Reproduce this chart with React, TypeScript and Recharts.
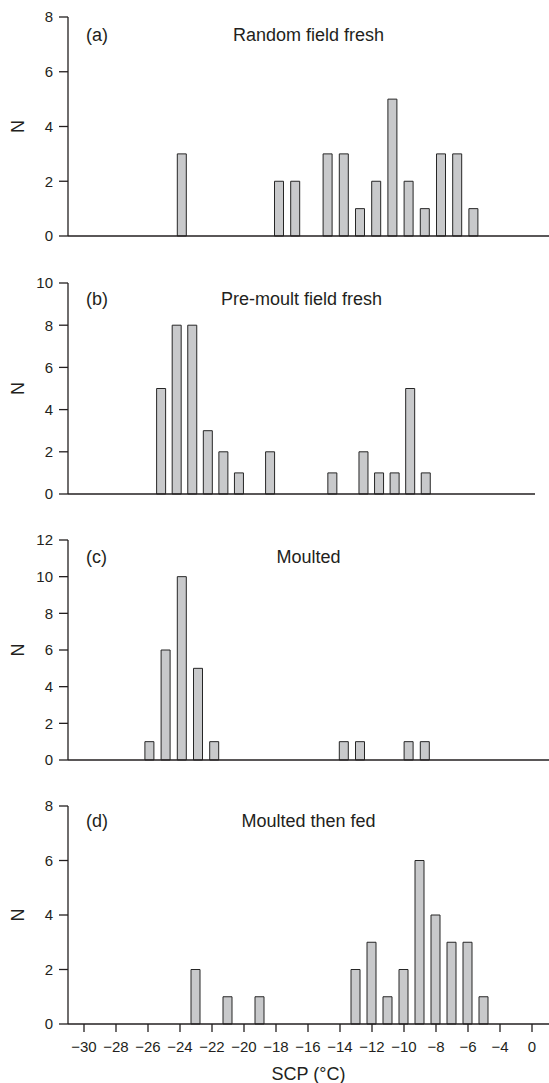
import React from "react";
import { BarChart, Bar, XAxis, YAxis } from "recharts";

// ---- data ----
const xTicks = [-30, -28, -26, -24, -22, -20, -18, -16, -14, -12, -10, -8, -6, -4, -2];
const xTickLabels = ["−30", "−28", "−26", "−24", "−22", "−20", "−18", "−16", "−14", "−12", "−10", "−8", "−6", "−4", "0"];

const titles = ["Random field fresh", "Pre-moult field fresh", "Moulted", "Moulted then fed"];
const panelLetters = ["(a)", "(b)", "(c)", "(d)"];

const binsA = [-24, -18, -17, -15, -14, -13, -12, -11, -10, -9, -8, -7, -6];
const countsA = [3, 2, 2, 3, 3, 1, 2, 5, 2, 1, 3, 3, 1];

const binsB = [-25, -24, -23, -22, -21, -20, -18, -14, -12, -11, -10, -9, -8];
const countsB = [5, 8, 8, 3, 2, 1, 2, 1, 2, 1, 1, 5, 1];

const binsC = [-26, -25, -24, -23, -22, -14, -13, -10, -9];
const countsC = [1, 6, 10, 5, 1, 1, 1, 1, 1];

const binsD = [-23, -21, -19, -13, -12, -11, -10, -9, -8, -7, -6, -5];
const countsD = [2, 1, 1, 2, 3, 1, 2, 6, 4, 3, 3, 1];

const yTicksA = [0, 2, 4, 6, 8];
const yTicksB = [0, 2, 4, 6, 8, 10];
const yTicksC = [0, 2, 4, 6, 8, 10, 12];
const yTicksD = [0, 2, 4, 6, 8];

const xLabel = "SCP (°C)";
const yLabel = "N";

// ---- styling ----
const FONT = "'Liberation Sans', Arial, Helvetica, sans-serif";
const INK = "#231f20";
const BAR_FILL = "#c8c9cb";
const W = 549;
const Y_AXIS_W = 68;
const MT = 12;

type PanelProps = {
  bins: number[];
  counts: number[];
  yTicks: number[];
  title: string;
  letter: string;
  plotTop: number;
  plotHeight: number;
  plotRight: number;
  xMax: number;
  titleBaseline: number;
  showXLabels: boolean;
};

function Panel(p: PanelProps) {
  const data = p.bins.map((b, i) => ({ bin: b, n: p.counts[i] }));
  const xAxisH = p.showXLabels ? 60 : 12;
  const H = MT + p.plotHeight + xAxisH;
  const plotCenterX = Y_AXIS_W + (p.plotRight - Y_AXIS_W) / 2;
  return (
    <div style={{ position: "absolute", left: 0, top: p.plotTop - MT, width: W, height: H }}>
      <BarChart
        width={W}
        height={H}
        data={data}
        margin={{ top: MT, right: W - p.plotRight, bottom: 0, left: 0 }}
        style={{ fontFamily: FONT }}
      >
        <XAxis
          dataKey="bin"
          type="number"
          domain={[-31, p.xMax]}
          allowDataOverflow
          ticks={xTicks}
          interval={0}
          height={xAxisH}
          tickSize={8}
          tickMargin={9}
          axisLine={{ stroke: INK, strokeWidth: 1.3 }}
          tickLine={{ stroke: INK, strokeWidth: 1.3 }}
          tick={p.showXLabels ? { fill: INK, fontSize: 15, fontFamily: FONT } : false}
          tickFormatter={(v: number) => xTickLabels[xTicks.indexOf(v)] ?? String(v)}
        />
        <YAxis
          type="number"
          domain={[0, p.yTicks[p.yTicks.length - 1]]}
          ticks={p.yTicks}
          interval={0}
          width={Y_AXIS_W}
          tickSize={9}
          tickMargin={6}
          axisLine={{ stroke: INK, strokeWidth: 1.3 }}
          tickLine={{ stroke: INK, strokeWidth: 1.3 }}
          tick={{ fill: INK, fontSize: 15, fontFamily: FONT }}
        />
        <Bar
          dataKey="n"
          barSize={9}
          fill={BAR_FILL}
          stroke="#262626"
          strokeWidth={1}
          isAnimationActive={false}
        />
        <text
          x={17.5}
          y={MT + p.plotHeight / 2}
          transform={`rotate(-90, 17.5, ${MT + p.plotHeight / 2})`}
          textAnchor="middle"
          dominantBaseline="central"
          fontSize={18}
          fontFamily={FONT}
          fill={INK}
        >
          {yLabel}
        </text>
        <text x={86} y={MT + p.titleBaseline} fontSize={18} fontFamily={FONT} fill={INK}>
          {p.letter}
        </text>
        <text
          x={plotCenterX > 308.5 ? 308.5 : plotCenterX}
          y={MT + p.titleBaseline}
          textAnchor="middle"
          fontSize={18}
          fontFamily={FONT}
          fill={INK}
        >
          {p.title}
        </text>
        {p.showXLabels && (
          <text
            x={308.5}
            y={MT + p.plotHeight + 56}
            textAnchor="middle"
            fontSize={18}
            fontFamily={FONT}
            fill={INK}
          >
            {xLabel}
          </text>
        )}
      </BarChart>
    </div>
  );
}

export default function App() {
  return (
    <div
      style={{
        position: "absolute",
        left: 0,
        top: 0,
        width: W,
        height: 1083,
        background: "#ffffff",
        overflow: "hidden",
        fontFamily: FONT,
      }}
    >
      <Panel
        bins={binsA}
        counts={countsA}
        yTicks={yTicksA}
        title={titles[0]}
        letter={panelLetters[0]}
        plotTop={17}
        plotHeight={219}
        plotRight={549}
        xMax={-31 + 481 / 16.2}
        titleBaseline={24}
        showXLabels={false}
      />
      <Panel
        bins={binsB}
        counts={countsB}
        yTicks={yTicksB}
        title={titles[1]}
        letter={panelLetters[1]}
        plotTop={283}
        plotHeight={211}
        plotRight={535}
        xMax={-1}
        titleBaseline={21.5}
        showXLabels={false}
      />
      <Panel
        bins={binsC}
        counts={countsC}
        yTicks={yTicksC}
        title={titles[2]}
        letter={panelLetters[2]}
        plotTop={540}
        plotHeight={220}
        plotRight={549}
        xMax={-31 + 481 / 16.2}
        titleBaseline={22.5}
        showXLabels={false}
      />
      <Panel
        bins={binsD}
        counts={countsD}
        yTicks={yTicksD}
        title={titles[3]}
        letter={panelLetters[3]}
        plotTop={806}
        plotHeight={218}
        plotRight={549}
        xMax={-31 + 481 / 16}
        titleBaseline={21}
        showXLabels={true}
      />
    </div>
  );
}
